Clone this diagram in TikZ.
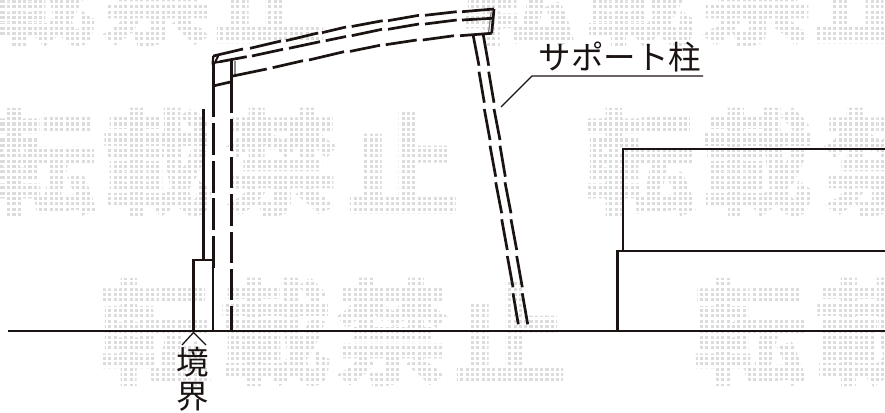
\documentclass[tikz,border=0pt]{standalone}
\usepackage{fontspec}
\newfontfamily\jpfont{Noto Sans CJK JP}
\newfontfamily\wmfont[FakeBold=3]{Noto Sans CJK JP Bold}
\definecolor{ink}{HTML}{1A1311}
\definecolor{wmgray}{HTML}{DCDCDC}
\tikzset{
  wmark/.style={text=wmgray,font=\wmfont\fontsize{112}{112}\selectfont,inner sep=0pt,anchor=center},
  wmgrid/.style={white,line width=2.3pt},
  heavy/.style={ink,line width=2.7pt},
  beam/.style={ink,line width=2.7pt},
  fine/.style={ink,line width=1.1pt},
  label/.style={text=ink,font=\jpfont\fontsize{32.5}{34}\selectfont,inner sep=0pt,align=center}
}
\begin{document}
\begin{tikzpicture}[x=1pt,y=-1pt]
\useasboundingbox (0,0) rectangle (885,412);
\begin{scope}
\clip (0,0) rectangle (885,412);
% watermark, rows of dot-matrix characters
\foreach \xx/\yy/\cc [count=\i] in {
  40/-8/載,157/-8/禁,270/-8/止,518/-8/転,640/-8/載,757/-8/禁,870/-8/止,
  40/162/転,157/162/載,282/162/禁,403/162/止,640/162/転,757/162/載,880/162/禁,
  155/332/転,275/332/載,392/332/禁,510/332/止,750/332/転,870/332/載}
  {\node[wmark] (wm\i) at (\xx,\yy) {\cc};}
\foreach \k in {0,...,166} {\draw[wmgrid] ({6+5.33*\k},0) -- ({6+5.33*\k},412);}
\foreach \k in {-21,...,56} {\draw[wmgrid] (0,{116+5.33*\k}) -- (885,{116+5.33*\k});}
\end{scope}
% ground and building
\draw[heavy] (8,331) -- (885,331);
\draw[heavy] (617.3,331) -- (617.3,251) -- (885,251);
\draw[heavy] (623,251) -- (623,149) -- (885,149);
% boundary block and thin line
\draw[heavy] (193.5,331) -- (193.5,260) -- (213,260) -- (213,331);
\draw[heavy] (203.3,109) -- (203.3,260);
% left post
\draw[heavy] (213.3,63) -- (213.3,117);
\foreach \a/\b in {123/155,161/193,198/230,236/268}
  {\draw[heavy] (213.3,\a) -- (213.3,\b);}
% right post
\draw[heavy] (231.7,60) -- (231.7,113);
\foreach \a/\b in {119/151,157/188,194/226,232/263,269/300,306/331}
  {\draw[heavy] (231.7,\a) -- (231.7,\b);}
\draw[heavy] (213,86) -- (231.7,81.7);
\draw[black!45,line width=2pt] (234.8,61) -- (234.8,76);
% roof ends
\draw[heavy,line width=2.2pt] (213.3,56) -- (212.7,63) -- (220,61.7);
\draw[heavy,line width=2pt] (214.8,63) -- (218.6,55);
\draw[beam] (494,9) -- (491.7,33.3);
\draw[black!50,line width=1.2pt] (491.2,11.7) -- (488.6,32);
% roof lines
\foreach \p/\q/\r/\s in {
 213.3/56/243/49, 250/48.3/281/41, 286/40.7/318/33, 322/32.7/346/27, 351.7/26.5/382.7/20.7,
 388/20.7/419/15.3, 425/15.3/456.7/11.7, 462/11.7/494/9,
 220/61.7/246.7/56.7, 252/56/283/49.3, 289/48.3/320/41.7, 325.7/40.7/346/36.5, 351.7/35.7/382/29.3,
 388/29.3/419/24, 425/24/456.7/20, 462/20/492/18.3,
 233/76/266.7/69, 272.7/67.7/303/60.7, 309/60/344/51.7, 350/51.4/380/45.3,
 385.7/44.7/416.7/40, 422.7/40/454/35.7, 460/35.7/491.7/33.3}
 {\draw[beam] (\p,\q) -- (\r,\s);}
% support post
\foreach \p/\q/\r/\s in {
 473.3/36/479/65.7, 479/71.7/484.3/102.7, 484.3/109/490/140, 490/145.7/495.7/176.7,
 495.7/182.3/501.7/213.3, 501.7/219.3/507.3/250, 507.3/256/513/287.3, 513/293.3/518.3/324.3,
 483.3/35/488.7/65.7, 488.7/71.7/494/102.7, 494/109/500/140, 500/145.7/505.3/176.7,
 505/182.3/511/213.3, 511/219.3/516.7/250, 516.7/256/522.3/287.3, 522.3/293.3/527.7/324.3}
 {\draw[beam] (\p,\q) -- (\r,\s);}
% labels and leaders
\node[label] (support) at (620,57) {サポート柱};
\coordinate (leadtip) at (501,107);
\coordinate (leadknee) at (532,76);
\coordinate (leadend) at (703,76);
\draw[fine] (leadtip) -- (leadknee) -- (leadend);
\node[label] (boundary) at (193,379) {境\\界};
\coordinate (peak) at (193.5,332.5);
\coordinate (peakl) at (182,345);
\coordinate (peakr) at (206,345);
\draw[fine,line width=1.3pt] (peakl) -- (peak) -- (peakr);
\end{tikzpicture}
\end{document}
